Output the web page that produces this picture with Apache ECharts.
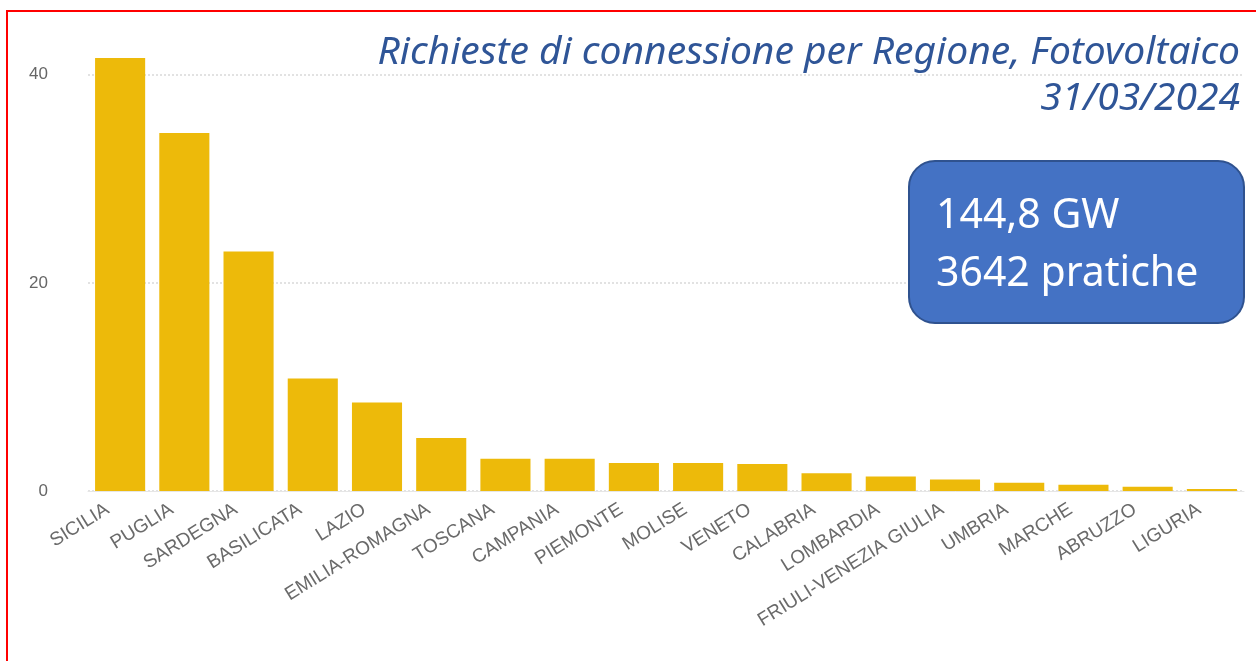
<!DOCTYPE html>
<html>
<head>
<meta charset="utf-8">
<script src="https://cdn.jsdelivr.net/npm/echarts@6/dist/echarts.min.js"></script>
<style>
  html, body { margin: 0; padding: 0; background: #fff; overflow: hidden; }
  #chart { position: absolute; left: 0; top: 0; width: 1256px; height: 661px; }
  #frame { position: absolute; left: 6px; top: 10px; width: 1300px; height: 700px; border: 2px solid #ff0000; pointer-events: none; }
</style>
</head>
<body>
<div id="chart"></div>
<div id="frame"></div>
<script>
// regioni e richieste (GW)
var regioni = ['SICILIA', 'PUGLIA', 'SARDEGNA', 'BASILICATA', 'LAZIO', 'EMILIA-ROMAGNA', 'TOSCANA',
    'CAMPANIA', 'PIEMONTE', 'MOLISE', 'VENETO', 'CALABRIA', 'LOMBARDIA', 'FRIULI-VENEZIA GIULIA',
    'UMBRIA', 'MARCHE', 'ABRUZZO', 'LIGURIA'];
var potenza = [41.6, 34.4, 23.0, 10.8, 8.5, 5.1, 3.1, 3.1, 2.7, 2.7, 2.6, 1.7, 1.4, 1.1, 0.8, 0.6, 0.4, 0.2];
var titolo1 = 'Richieste di connessione per Regione, Fotovoltaico';
var titolo2 = '31/03/2024';
var riquadro = '144,8 GW\n3642 pratiche';

var myChart = echarts.init(document.getElementById('chart'));

var option = {
    backgroundColor: '#ffffff',
    animation: false,
    grid: { left: 88, right: 12, top: 33, bottom: 170 },
    xAxis: {
        type: 'category',
        data: regioni,
        axisTick: { show: false },
        axisLine: { lineStyle: { color: '#e6e6e6' } },
        axisLabel: {
            interval: 0,
            rotate: 32,
            margin: 9,
            padding: [0, 15, 0, 0],
            color: '#6a6a6a',
            fontSize: 19,
            fontFamily: 'Liberation Sans'
        }
    },
    yAxis: {
        type: 'value',
        min: 0,
        max: 44,
        interval: 20,
        axisLabel: {
            showMaxLabel: false,
            margin: 40,
            color: '#666',
            fontSize: 17,
            fontFamily: 'Liberation Sans'
        },
        splitLine: {
            showMaxLine: false,
            lineStyle: { color: '#e2e2e2', type: 'dotted', width: 2 }
        }
    },
    series: [{
        type: 'bar',
        data: potenza,
        barCategoryGap: '22%',
        itemStyle: { color: '#EDBA0A' }
    }],
    graphic: [
        {
            type: 'text',
            right: 16,
            top: 33,
            z: 100,
            style: {
                text: titolo1,
                font: 'italic 39px "Noto Sans"',
                fill: '#2F5597'
            }
        },
        {
            type: 'text',
            right: 16,
            top: 79,
            z: 100,
            style: {
                text: titolo2,
                font: 'italic 39px "Noto Sans"',
                fill: '#2F5597'
            }
        },
        {
            type: 'rect',
            left: 908,
            top: 160,
            z: 100,
            shape: { width: 335, height: 162, r: 26 },
            style: { fill: '#4472C4', stroke: '#2F528F', lineWidth: 2 }
        },
        {
            type: 'text',
            left: 936,
            top: 187,
            z: 101,
            style: {
                text: riquadro,
                font: '41px "Noto Sans"',
                lineHeight: 58,
                fill: '#ffffff'
            }
        }
    ]
};

myChart.setOption(option);
</script>
</body>
</html>
